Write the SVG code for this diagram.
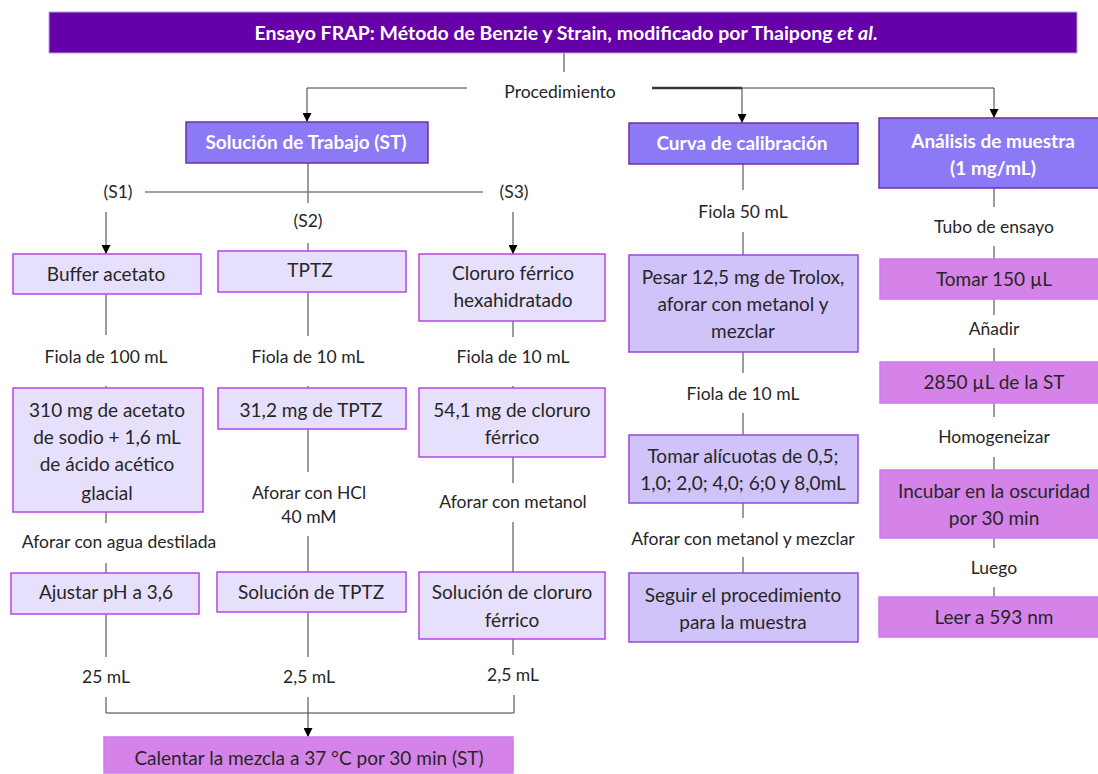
<svg xmlns="http://www.w3.org/2000/svg" width="1098" height="774" viewBox="0 0 1098 774">
<defs>
<style>
text{font-family:Lato,"Open Sans","Liberation Sans",sans-serif;font-size:17.5px;fill:#262626;text-anchor:middle}
.b{font-size:19px}
.w{fill:#ffffff;font-weight:bold;font-size:19px}
.tt{fill:#ffffff;font-weight:bold;font-size:19.5px}
.t{fill:#6600a8;stroke:#b9a3d6;stroke-width:1}
.h{fill:#8b79f6;stroke:#7030a0;stroke-width:1.5}
.l{fill:#e6e0fc;stroke:#b644ea;stroke-width:1.5}
.c{fill:#d0c3fa;stroke:#9a44d8;stroke-width:1.5}
.o{fill:#d683e9;stroke:#cc7af0;stroke-width:1.5}
.k{fill:none;stroke:#3a3a3a;stroke-width:1}
.g{fill:none;stroke:#7f7f7f;stroke-width:1.5}
</style>
<marker id="a" viewBox="0 0 10 10" refX="10" refY="5" markerWidth="9" markerHeight="9" markerUnits="userSpaceOnUse" orient="auto">
<path d="M0 0 L10 5 L0 10 Z" fill="#000"/>
</marker>
</defs>
<rect width="1098" height="774" fill="#ffffff"/>
<g id="connectors">
<path class="k" d="M564 53 V72"/>
<path class="k" d="M467 88 H307 V122" marker-end="url(#a)"/>
<path class="k" d="M652 88 H994 V118" marker-end="url(#a)"/>
<path class="k" d="M742 88 V123" marker-end="url(#a)"/>
<path d="M652 88 H742" stroke="#3a3a3a" stroke-width="2.5"/>
<path class="k" d="M308 163 V203"/>
<path class="g" d="M145 192 H483"/>
<path class="k" d="M308 243 V251"/>
<path class="k" d="M106 212 V254" marker-end="url(#a)"/>
<path class="k" d="M513 212 V254" marker-end="url(#a)"/>
<path class="k" d="M106 294 V335 M106 386 V388 M106 512 V523 M106 563 V573 M106 614 V657 M106 697 V713 H514 V695"/>
<path class="k" d="M308 292 V336 M308 386 V388 M308 429 V472 M308 536 V572 M308 612 V657"/>
<path class="k" d="M308 697 V737" marker-end="url(#a)"/>
<path class="k" d="M513 321 V337 M513 386 V388 M513 457 V483 M513 522 V572 M513 639 V655"/>
<path class="k" d="M743 164 V190 M743 232 V255 M743 352 V373 M743 413 V435 M743 503 V518 M743 557 V573"/>
<path class="k" d="M994 188 V207 M994 246 V259 M994 299 V315 M994 348 V362 M994 403 V417 M994 457 V470 M994 538 V548 M994 587 V597"/>
</g>
<g id="title">
<rect class="t" x="49" y="12" width="1028" height="41"/>
<text class="tt" x="566" y="40">Ensayo FRAP: Método de Benzie y Strain, modificado por Thaipong <tspan font-style="italic">et al</tspan>.</text>
</g>
<g id="procedimiento"><text x="560" y="98">Procedimiento</text></g>
<g id="st">
<rect class="h" x="186" y="122" width="242" height="41"/>
<text class="w" x="306" y="149">Solución de Trabajo (ST)</text>
</g>
<g id="curva">
<rect class="h" x="629" y="123" width="229" height="41"/>
<text class="w" x="742" y="150">Curva de calibración</text>
</g>
<g id="analisis">
<rect class="h" x="879" y="118" width="232" height="70"/>
<text class="w" x="993" y="148">Análisis de muestra</text>
<text class="w" x="993" y="175">(1 mg/mL)</text>
</g>
<g id="s1"><text x="118" y="198">(S1)</text></g>
<g id="s2"><text x="308" y="227">(S2)</text></g>
<g id="s3"><text x="514" y="198">(S3)</text></g>
<g id="buffer">
<rect class="l" x="13" y="254" width="188" height="40"/>
<text class="b" x="106" y="280.5">Buffer acetato</text>
</g>
<g id="tptz">
<rect class="l" x="218" y="251" width="188" height="41"/>
<text class="b" x="310" y="276.5">TPTZ</text>
</g>
<g id="cloruro">
<rect class="l" x="419" y="254" width="186" height="67"/>
<text class="b" x="513" y="279.5">Cloruro férrico</text>
<text class="b" x="513" y="306.5">hexahidratado</text>
</g>
<g id="fiola100"><text x="106" y="363">Fiola de 100 mL</text></g>
<g id="fiola10a"><text x="308" y="363">Fiola de 10 mL</text></g>
<g id="fiola10b"><text x="513" y="363">Fiola de 10 mL</text></g>
<g id="acetato">
<rect class="l" x="13" y="388" width="190" height="124"/>
<text class="b" x="107" y="416.5">310 mg de acetato</text>
<text class="b" x="107" y="443.5">de sodio + 1,6 mL</text>
<text class="b" x="107" y="470.5">de ácido acético</text>
<text class="b" x="107" y="499.5">glacial</text>
</g>
<g id="mgtptz">
<rect class="l" x="218" y="388" width="188" height="41"/>
<text class="b" x="311" y="416.5">31,2 mg de TPTZ</text>
</g>
<g id="mgcloruro">
<rect class="l" x="419" y="388" width="186" height="69"/>
<text class="b" x="512" y="416.5">54,1 mg de cloruro</text>
<text class="b" x="512" y="443.5">férrico</text>
</g>
<g id="aforaragua"><text x="119" y="548">Aforar con agua destilada</text></g>
<g id="aforarhcl"><text x="309" y="499">Aforar con HCl</text><text x="309" y="523">40 mM</text></g>
<g id="aforarmet"><text x="513" y="508">Aforar con metanol</text></g>
<g id="ajustar">
<rect class="l" x="11" y="573" width="188" height="41"/>
<text class="b" x="106" y="598.5">Ajustar pH a 3,6</text>
</g>
<g id="soltptz">
<rect class="l" x="217" y="572" width="189" height="40"/>
<text class="b" x="311" y="598.5">Solución de TPTZ</text>
</g>
<g id="solcloruro">
<rect class="l" x="419" y="572" width="186" height="67"/>
<text class="b" x="512" y="598.5">Solución de cloruro</text>
<text class="b" x="512" y="626.5">férrico</text>
</g>
<g id="v25"><text x="106" y="683">25 mL</text></g>
<g id="v25b"><text x="309" y="683">2,5 mL</text></g>
<g id="v25c"><text x="513" y="681">2,5 mL</text></g>
<g id="calentar">
<rect class="o" x="104" y="737" width="409" height="36"/>
<text class="b" x="309" y="764.5">Calentar la mezcla a 37 °C por 30 min (ST)</text>
</g>
<g id="fiola50"><text x="743" y="218">Fiola 50 mL</text></g>
<g id="pesar">
<rect class="c" x="629" y="255" width="229" height="97"/>
<text class="b" x="743" y="283.5">Pesar 12,5 mg de Trolox,</text>
<text class="b" x="743" y="310.5">aforar con metanol y</text>
<text class="b" x="743" y="337.5">mezclar</text>
</g>
<g id="fiola10c"><text x="743" y="400">Fiola de 10 mL</text></g>
<g id="alicuotas">
<rect class="c" x="629" y="435" width="229" height="68"/>
<text class="b" x="743" y="462.5">Tomar alícuotas de 0,5;</text>
<text class="b" x="743" y="489.5">1,0; 2,0; 4,0; 6;0 y 8,0mL</text>
</g>
<g id="aforarmez"><text x="743" y="545">Aforar con metanol y mezclar</text></g>
<g id="seguir">
<rect class="c" x="629" y="573" width="229" height="69"/>
<text class="b" x="743" y="601.5">Seguir el procedimiento</text>
<text class="b" x="743" y="628.5">para la muestra</text>
</g>
<g id="tubo"><text x="994" y="233">Tubo de ensayo</text></g>
<g id="tomar150">
<rect class="o" x="880" y="259" width="230" height="40"/>
<text class="b" x="994" y="286">Tomar 150 µL</text>
</g>
<g id="anadir"><text x="994" y="335">Añadir</text></g>
<g id="st2850">
<rect class="o" x="880" y="362" width="230" height="41"/>
<text class="b" x="994" y="388.5">2850 µL de la ST</text>
</g>
<g id="homog"><text x="994" y="443">Homogeneizar</text></g>
<g id="incubar">
<rect class="o" x="880" y="470" width="230" height="68"/>
<text class="b" x="994" y="497.5">Incubar en la oscuridad</text>
<text class="b" x="994" y="524.5">por 30 min</text>
</g>
<g id="luego"><text x="994" y="574">Luego</text></g>
<g id="leer">
<rect class="o" x="879" y="597" width="231" height="40"/>
<text class="b" x="994" y="623.5">Leer a 593 nm</text>
</g>
</svg>
